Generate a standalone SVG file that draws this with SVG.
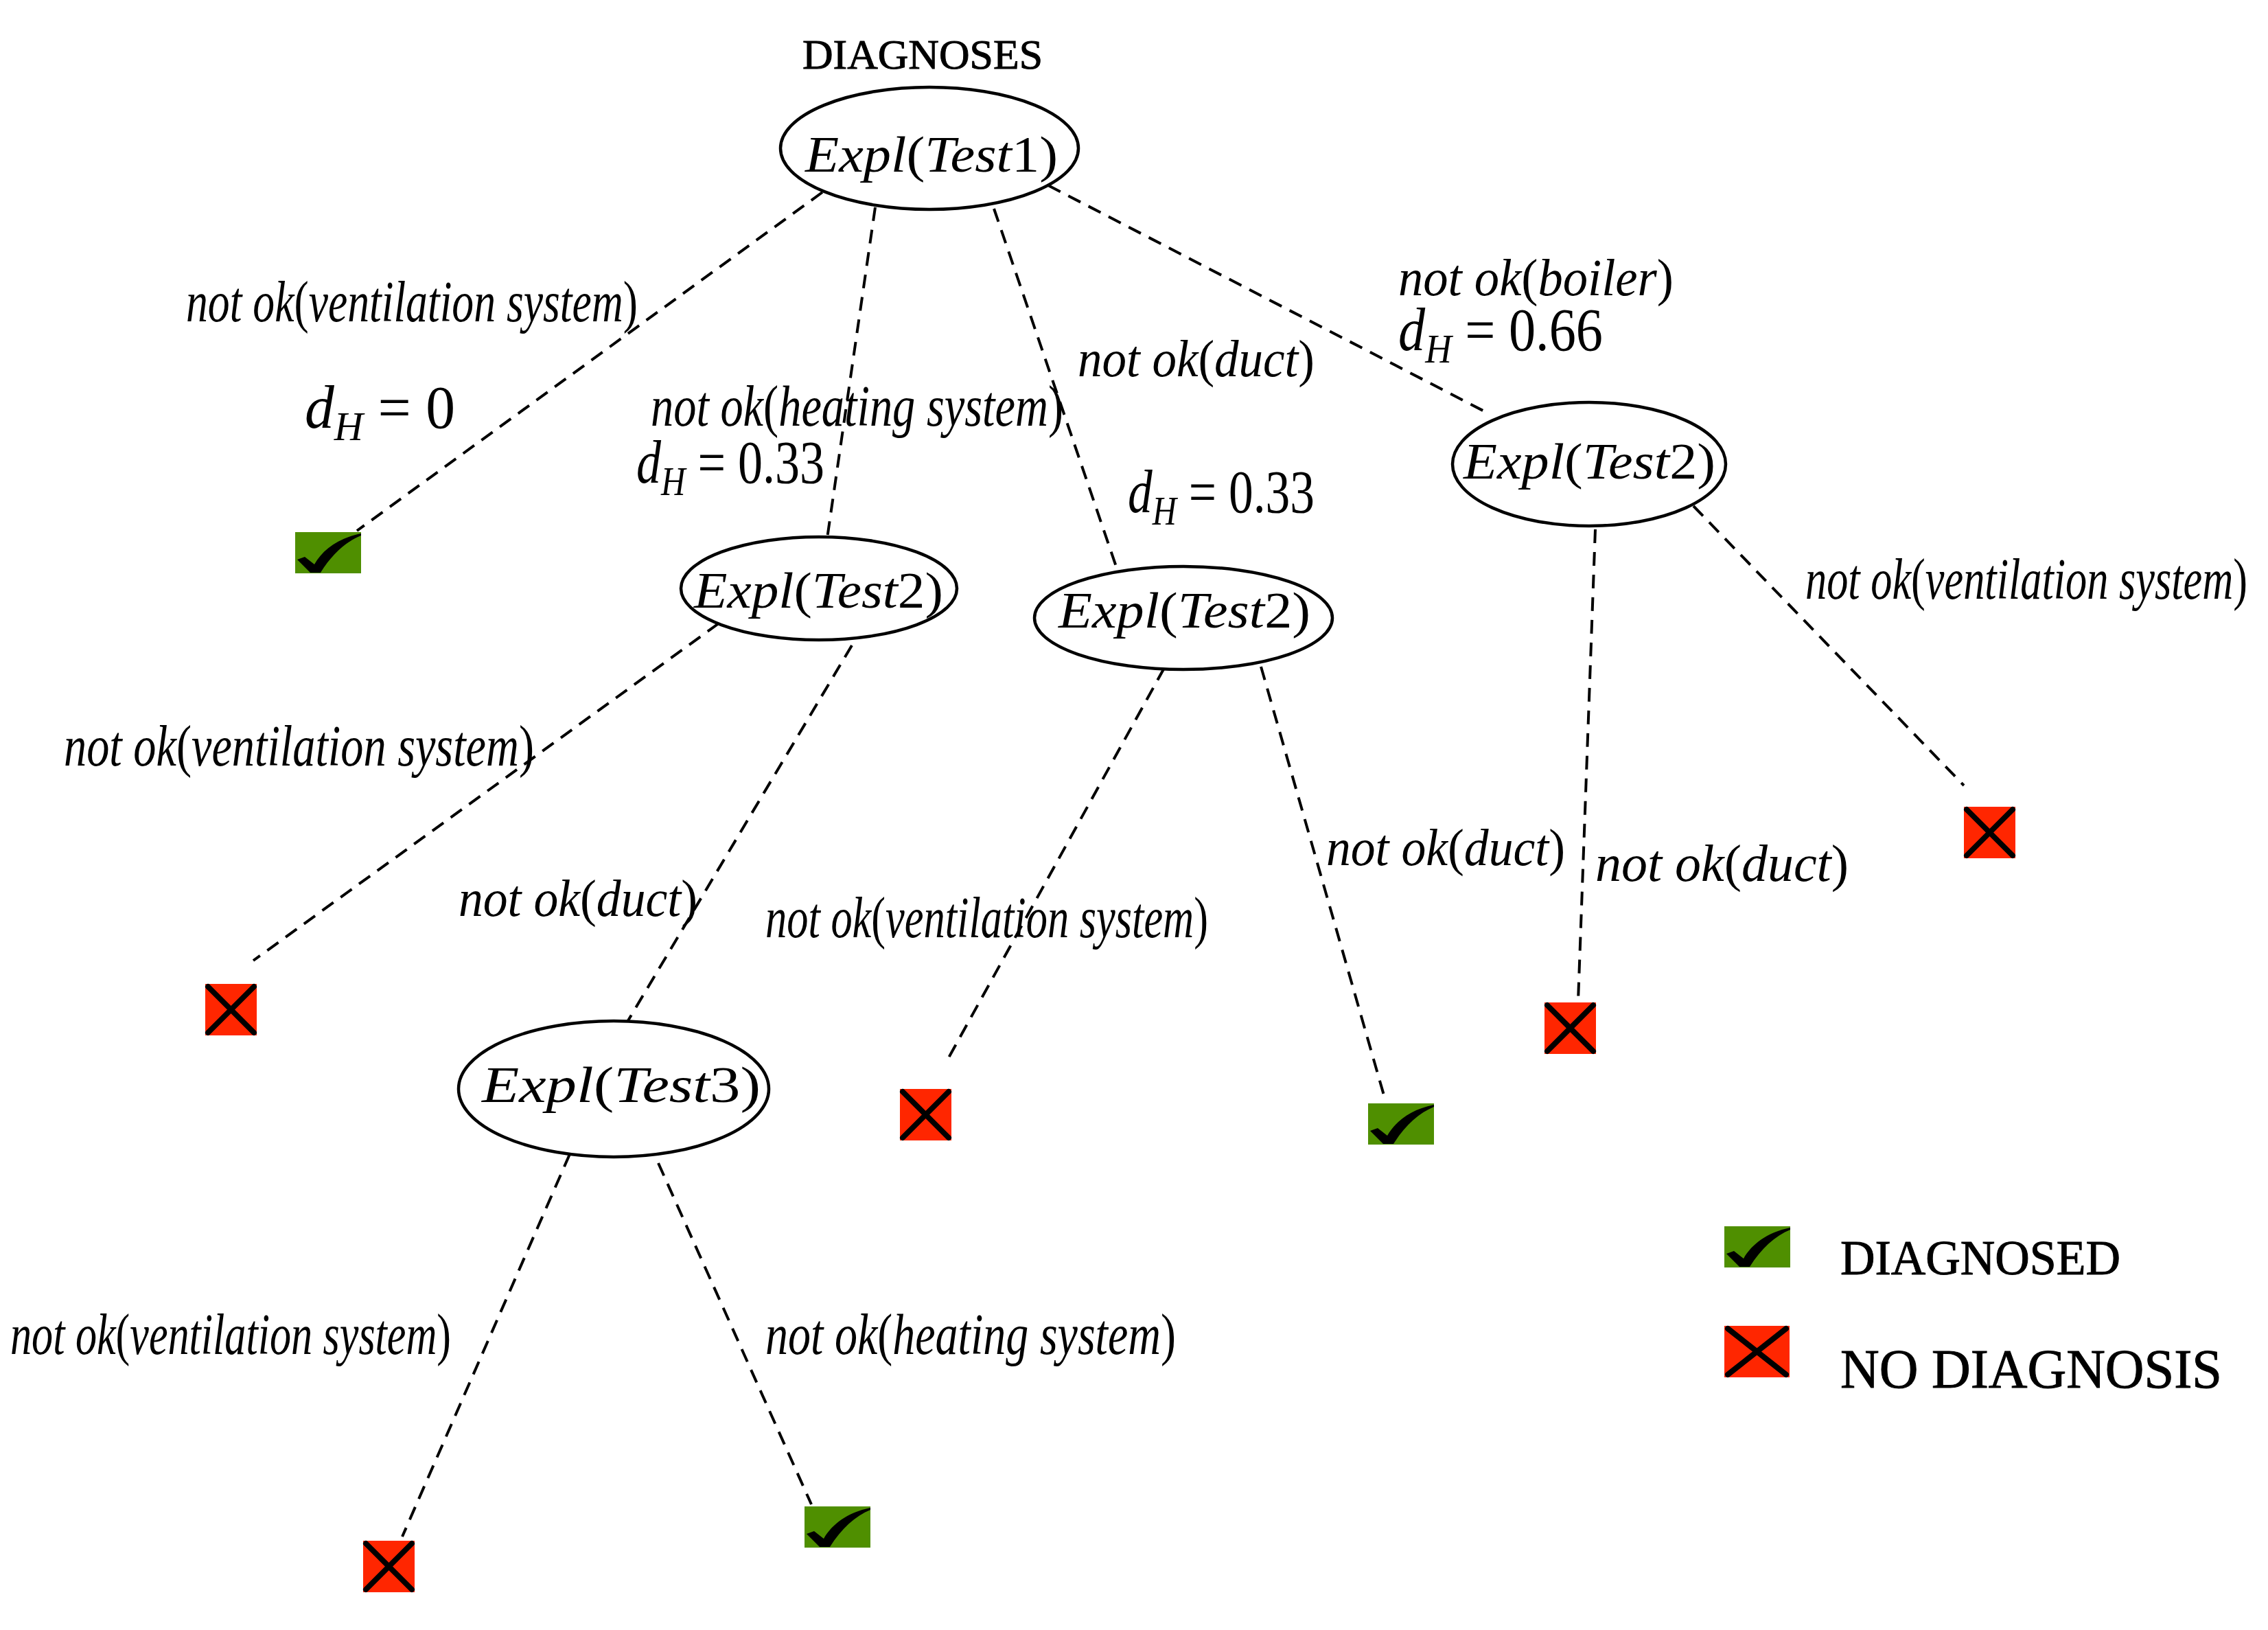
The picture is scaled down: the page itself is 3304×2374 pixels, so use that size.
<svg xmlns="http://www.w3.org/2000/svg" width="3304" height="2374" viewBox="0 0 3304 2374">
<style>
.n{fill:#fff;stroke:#000;stroke-width:4.5}
#connectors line{stroke:#000;stroke-width:4;stroke-dasharray:20 13;fill:none}
text{fill:#000;font-family:"Liberation Serif",serif}
.l{font-size:84px;font-style:italic}
.e{font-size:74px;font-style:italic}
.d{font-size:88px}
.u{font-style:normal}
.i{font-style:italic}
.s{font-size:60px;font-style:italic}
.t{stroke:#000;stroke-width:1}
.g{fill:#4f8f00}
.r{fill:#ff2600}
.x{stroke:#000;stroke-width:8;stroke-linecap:round}
</style>
<defs>
<g id="chk"><rect class="g" width="96" height="60"/><path d="M3,40 L14,36 L28,47 C40,26 62,9 96,2 L96,5 C74,14 54,32 37,59 L22,59 Z"/></g>
<g id="crs"><rect class="r" width="75" height="75"/><line class="x" x1="4" y1="4" x2="71" y2="71"/><line class="x" x1="71" y1="4" x2="4" y2="71"/></g>
</defs>
<g id="connectors">
<line x1="1198" y1="280" x2="520" y2="773"/>
<line x1="1275" y1="302" x2="1205" y2="784"/>
<line x1="1448" y1="304" x2="1627" y2="828"/>
<line x1="1527" y1="270" x2="2170" y2="603"/>
<line x1="2467" y1="737" x2="2861" y2="1144"/>
<line x1="2324" y1="771" x2="2299" y2="1458"/>
<line x1="1696" y1="973" x2="1380" y2="1544"/>
<line x1="1837" y1="971" x2="2016" y2="1595"/>
<line x1="1047" y1="908" x2="369" y2="1399"/>
<line x1="1241" y1="940" x2="914" y2="1488"/>
<line x1="830" y1="1681" x2="586" y2="2238"/>
<line x1="959" y1="1694" x2="1182" y2="2191"/>
</g>
<g id="title"><text class="t" x="1169" y="100" font-size="62" textLength="350" lengthAdjust="spacingAndGlyphs">DIAGNOSES</text></g>
<g id="node-test1"><ellipse class="n" cx="1354" cy="216" rx="217" ry="89"/><text class="e" x="1173" y="250" textLength="368" lengthAdjust="spacingAndGlyphs">Expl<tspan class="u">(</tspan>Test<tspan class="u">1)</tspan></text></g>
<g id="node-test2-d"><ellipse class="n" cx="2315" cy="676" rx="199" ry="90"/><text class="e" x="2132" y="697" textLength="367" lengthAdjust="spacingAndGlyphs">Expl<tspan class="u">(</tspan>Test<tspan class="u">2)</tspan></text></g>
<g id="node-test2-a"><ellipse class="n" cx="1193" cy="857" rx="201" ry="75"/><text class="e" x="1011" y="885" textLength="363" lengthAdjust="spacingAndGlyphs">Expl<tspan class="u">(</tspan>Test<tspan class="u">2)</tspan></text></g>
<g id="node-test2-b"><ellipse class="n" cx="1724" cy="900" rx="217" ry="75"/><text class="e" x="1542" y="914" textLength="367" lengthAdjust="spacingAndGlyphs">Expl<tspan class="u">(</tspan>Test<tspan class="u">2)</tspan></text></g>
<g id="node-test3"><ellipse class="n" cx="894" cy="1586" rx="226" ry="99"/><text class="e" x="702" y="1605" textLength="406" lengthAdjust="spacingAndGlyphs">Expl<tspan class="u">(</tspan>Test<tspan class="u">3)</tspan></text></g>
<g id="leaf-1"><use href="#chk" x="430" y="775"/></g>
<g id="leaf-2"><use href="#chk" x="1993" y="1607"/></g>
<g id="leaf-3"><use href="#chk" x="1172" y="2194"/></g>
<g id="leaf-4"><use href="#crs" x="2861" y="1175"/></g>
<g id="leaf-5"><use href="#crs" x="2250" y="1460"/></g>
<g id="leaf-6"><use href="#crs" x="299" y="1433"/></g>
<g id="leaf-7"><use href="#crs" x="1311" y="1586"/></g>
<g id="leaf-8"><use href="#crs" x="529" y="2244"/></g>
<g id="labels">
<text class="l" x="271" y="468" textLength="658" lengthAdjust="spacingAndGlyphs">not ok<tspan class="u">(</tspan>ventilation system<tspan class="u">)</tspan></text>
<text class="l" x="948" y="620" textLength="601" lengthAdjust="spacingAndGlyphs">not ok<tspan class="u">(</tspan>heating system<tspan class="u">)</tspan></text>
<text class="l" x="1570" y="548" textLength="345" lengthAdjust="spacingAndGlyphs" style="font-size:76px">not ok<tspan class="u">(</tspan>duct<tspan class="u">)</tspan></text>
<text class="l" x="2037" y="430" textLength="401" lengthAdjust="spacingAndGlyphs" style="font-size:76px">not ok<tspan class="u">(</tspan>boiler<tspan class="u">)</tspan></text>
<text class="l" x="2630" y="872" textLength="644" lengthAdjust="spacingAndGlyphs">not ok<tspan class="u">(</tspan>ventilation system<tspan class="u">)</tspan></text>
<text class="l" x="93" y="1115" textLength="685" lengthAdjust="spacingAndGlyphs">not ok<tspan class="u">(</tspan>ventilation system<tspan class="u">)</tspan></text>
<text class="l" x="668" y="1334" textLength="348" lengthAdjust="spacingAndGlyphs" style="font-size:76px">not ok<tspan class="u">(</tspan>duct<tspan class="u">)</tspan></text>
<text class="l" x="1115" y="1365" textLength="645" lengthAdjust="spacingAndGlyphs">not ok<tspan class="u">(</tspan>ventilation system<tspan class="u">)</tspan></text>
<text class="l" x="1932" y="1260" textLength="348" lengthAdjust="spacingAndGlyphs" style="font-size:76px">not ok<tspan class="u">(</tspan>duct<tspan class="u">)</tspan></text>
<text class="l" x="2324" y="1283" textLength="369" lengthAdjust="spacingAndGlyphs" style="font-size:76px">not ok<tspan class="u">(</tspan>duct<tspan class="u">)</tspan></text>
<text class="l" x="15" y="1972" textLength="642" lengthAdjust="spacingAndGlyphs">not ok<tspan class="u">(</tspan>ventilation system<tspan class="u">)</tspan></text>
<text class="l" x="1115" y="1972" textLength="598" lengthAdjust="spacingAndGlyphs">not ok<tspan class="u">(</tspan>heating system<tspan class="u">)</tspan></text>
<text class="d" x="444" y="623" textLength="219" lengthAdjust="spacingAndGlyphs"><tspan class="i">d</tspan><tspan class="s" dy="18">H</tspan><tspan dy="-18"> = 0</tspan></text>
<text class="d" x="927" y="703" textLength="274" lengthAdjust="spacingAndGlyphs"><tspan class="i">d</tspan><tspan class="s" dy="18">H</tspan><tspan dy="-18"> = 0.33</tspan></text>
<text class="d" x="1643" y="746" textLength="272" lengthAdjust="spacingAndGlyphs"><tspan class="i">d</tspan><tspan class="s" dy="18">H</tspan><tspan dy="-18"> = 0.33</tspan></text>
<text class="d" x="2037" y="510" textLength="298" lengthAdjust="spacingAndGlyphs"><tspan class="i">d</tspan><tspan class="s" dy="18">H</tspan><tspan dy="-18"> = 0.66</tspan></text>
</g>
<g id="legend">
<use href="#chk" x="2512" y="1786"/>
<text class="t" x="2681" y="1856" font-size="71" textLength="408" lengthAdjust="spacingAndGlyphs">DIAGNOSED</text>
<rect class="r" x="2512" y="1931" width="95" height="75"/>
<line class="x" x1="2517" y1="1935" x2="2602" y2="2002"/><line class="x" x1="2602" y1="1935" x2="2517" y2="2002"/>
<text class="t" x="2681" y="2021" font-size="80" textLength="556" lengthAdjust="spacingAndGlyphs">NO DIAGNOSIS</text>
</g>
</svg>
